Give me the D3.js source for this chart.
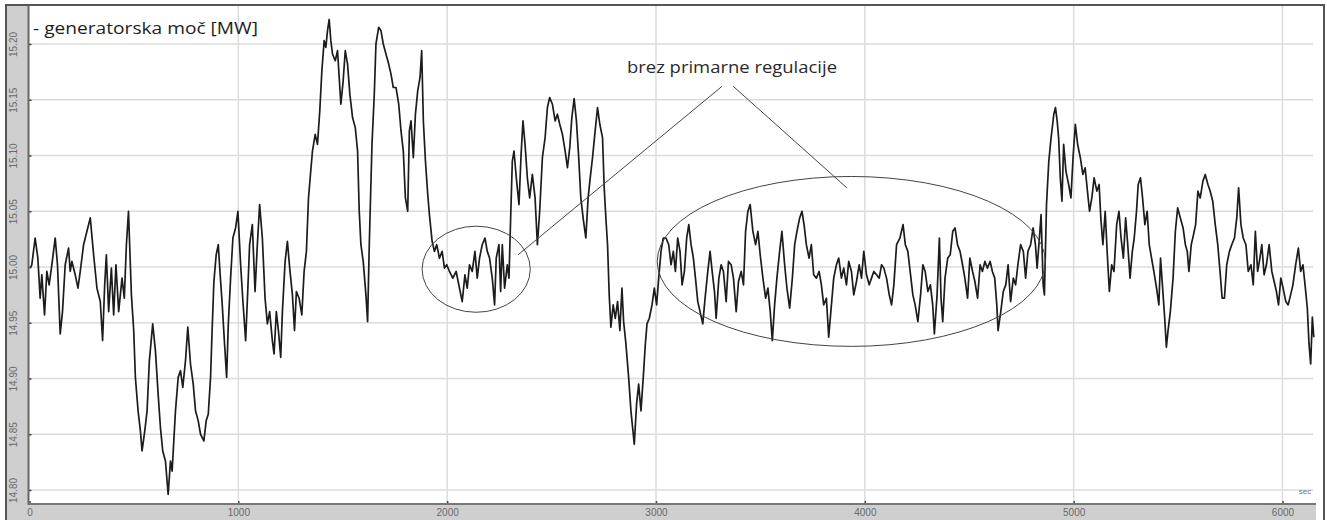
<!DOCTYPE html>
<html>
<head>
<meta charset="utf-8">
<script src="https://cdn.jsdelivr.net/npm/d3@7"></script>
<style>
  html, body { margin: 0; padding: 0; background: #fff; }
  svg { display: block; }
</style>
</head>
<body>
<svg id="chart" width="1327" height="520"></svg>
<script>
// Generator output power over time, seconds vs MW
const timeSec = [
  3, 11, 27, 40, 51, 59, 72, 83, 94, 107, 123, 134, 147, 158, 171, 187, 195, 203, 219, 232,
  243, 259, 275, 291, 307, 323, 339, 350, 360, 368, 379, 392, 403, 414, 427, 443, 454, 464, 474, 488,
  499, 507, 520, 531, 539, 552, 563, 574, 590, 603, 616, 627, 638, 651, 664, 675, 683, 699, 712, 723,
  734, 747, 758, 771, 784, 795, 808, 819, 835, 846, 856, 867, 875, 883, 894, 904, 912, 923, 934, 944,
  952, 963, 974, 987, 998, 1011, 1022, 1035, 1043, 1054, 1067, 1080, 1091, 1102, 1115, 1128, 1139, 1150, 1163, 1171,
  1182, 1192, 1203, 1211, 1224, 1235, 1246, 1259, 1269, 1278, 1291, 1304, 1315, 1326, 1336, 1344, 1355, 1368, 1379, 1390,
  1400, 1411, 1419, 1427, 1435, 1443, 1451, 1464, 1475, 1483, 1491, 1502, 1512, 1523, 1534, 1547, 1560, 1571, 1579, 1587,
  1598, 1611, 1619, 1627, 1640, 1651, 1659, 1672, 1683, 1694, 1707, 1720, 1731, 1742, 1755, 1768, 1779, 1790, 1800, 1811,
  1819, 1827, 1838, 1848, 1859, 1870, 1878, 1886, 1896, 1907, 1915, 1928, 1939, 1950, 1963, 1976, 1987, 1998, 2011, 2027,
  2043,
  2072, 2085, 2096, 2107, 2120, 2133, 2144, 2155, 2168, 2181, 2192, 2203, 2216, 2227, 2235, 2248, 2256, 2264, 2275, 2288,
  2296, 2304, 2312, 2320, 2331, 2344, 2354, 2363, 2373, 2384, 2395, 2408, 2421, 2432, 2443, 2456, 2469, 2480, 2491, 2504,
  2517, 2528, 2539, 2552, 2565, 2576, 2587, 2597, 2608, 2619, 2629, 2640, 2651, 2664, 2675, 2685, 2696, 2707, 2720, 2731,
  2744, 2752, 2760, 2768, 2776, 2784, 2795, 2805, 2816, 2827, 2837, 2845, 2856, 2869, 2880, 2888, 2896, 2907, 2917, 2928,
  2939, 2949, 2957, 2968, 2981, 2992, 3003, 3013, 3024, 3035, 3048, 3061, 3072, 3083, 3093, 3104, 3115, 3125, 3136, 3147,
  3157, 3168, 3179, 3189, 3200, 3211, 3224, 3235, 3248, 3259, 3269, 3280, 3288, 3301, 3312, 3323, 3336, 3347, 3360, 3371,
  3384, 3395, 3408, 3419, 3429, 3440, 3451, 3464, 3477, 3488, 3499, 3512, 3525, 3536, 3547, 3557, 3568, 3579, 3592, 3603,
  3616, 3627, 3640, 3653, 3664, 3675, 3688, 3699, 3709, 3720, 3733, 3744, 3755, 3768, 3781, 3792, 3803, 3816, 3827, 3840,
  3851, 3864, 3875, 3888, 3899, 3912, 3923, 3936, 3947, 3960, 3973, 3984, 3995, 4008, 4021, 4032, 4043, 4056, 4069, 4080,
  4091, 4104, 4117, 4128, 4139, 4152, 4168,
  4183, 4194, 4206, 4219, 4230, 4241, 4254, 4267, 4278, 4289, 4302, 4314, 4325, 4333, 4346, 4357, 4365, 4373, 4384, 4397,
  4409, 4421, 4432, 4444, 4456, 4468, 4479, 4492, 4503, 4516, 4527, 4540, 4552, 4563, 4575, 4587, 4600, 4611, 4622, 4632,
  4638, 4651, 4663, 4675, 4686, 4698, 4711, 4722, 4733, 4746, 4759, 4770, 4781, 4794, 4806, 4817, 4825, 4836, 4844, 4854,
  4860, 4870, 4881, 4892, 4905, 4913, 4921, 4928, 4936, 4944, 4952, 4963, 4976, 4987, 4997, 5008, 5019, 5032, 5044, 5055,
  5066, 5076, 5087, 5098, 5111, 5122, 5130, 5140, 5151, 5162, 5171, 5182, 5193, 5206, 5217, 5227, 5238, 5249, 5259, 5270,
  5281, 5290, 5301, 5309, 5320, 5330, 5341, 5352, 5362, 5373, 5384, 5397, 5408, 5416, 5425, 5436, 5444, 5452, 5463, 5476,
  5487, 5498, 5511, 5524, 5535, 5544, 5552, 5563, 5574, 5584, 5595, 5606, 5619, 5630, 5643, 5654, 5666, 5678, 5690, 5701,
  5711, 5722, 5733, 5746, 5757, 5770, 5781, 5790, 5801, 5812, 5825, 5836, 5849, 5860, 5870, 5881, 5892, 5901, 5912, 5923,
  5936, 5949, 5960, 5971, 5981, 5992, 6003, 6016, 6027, 6039, 6050, 6063, 6076, 6087, 6098, 6108, 6119, 6127, 6135, 6143,
  6150
];

const powerMW = [
  14.999, 15.002, 15.026, 15.008, 14.972, 14.993, 14.957, 14.996, 14.984, 15.002, 15.026, 15.002, 14.940, 14.960, 15.002, 15.017, 14.996, 15.005, 14.993, 14.981,
  14.996, 15.020, 15.032, 15.044, 15.011, 14.981, 14.969, 14.934, 14.984, 15.011, 14.960, 14.999, 14.957, 15.002, 14.960, 14.990, 14.972, 15.020, 15.050, 14.975,
  14.943, 14.901, 14.871, 14.853, 14.835, 14.853, 14.871, 14.916, 14.949, 14.925, 14.886, 14.856, 14.835, 14.826, 14.796, 14.826, 14.817, 14.871, 14.901, 14.907,
  14.892, 14.916, 14.946, 14.913, 14.895, 14.871, 14.862, 14.850, 14.844, 14.862, 14.868, 14.901, 14.946, 14.987, 15.011, 15.020, 14.996, 14.966, 14.931, 14.901,
  14.949, 14.990, 15.026, 15.035, 15.050, 15.002, 14.969, 14.934, 14.969, 15.020, 15.038, 14.978, 15.020, 15.056, 15.026, 14.972, 14.949, 14.960, 14.934, 14.922,
  14.960, 14.943, 14.919, 14.960, 15.005, 15.023, 14.999, 14.975, 14.943, 14.978, 14.972, 14.957, 14.996, 15.014, 15.062, 15.080, 15.104, 15.119, 15.110, 15.140,
  15.176, 15.203, 15.197, 15.212, 15.222, 15.203, 15.191, 15.185, 15.194, 15.170, 15.146, 15.167, 15.194, 15.182, 15.155, 15.134, 15.125, 15.104, 15.050, 15.020,
  15.005, 14.975, 14.951, 15.020, 15.110, 15.155, 15.200, 15.215, 15.212, 15.200, 15.191, 15.182, 15.173, 15.161, 15.161, 15.146, 15.122, 15.104, 15.062, 15.050,
  15.122, 15.131, 15.098, 15.137, 15.158, 15.170, 15.194, 15.131, 15.095, 15.065, 15.047, 15.023, 15.014, 15.020, 15.008, 15.014, 14.999, 15.002, 14.996, 14.990,
  14.996,
  14.969, 14.993, 14.981, 15.002, 14.996, 15.014, 14.990, 15.008, 15.020, 15.026, 15.014, 15.008, 14.990, 14.966, 15.008, 15.020, 14.978, 15.020, 14.981, 15.002,
  14.990, 15.044, 15.095, 15.104, 15.080, 15.056, 15.101, 15.131, 15.110, 15.080, 15.062, 15.083, 15.062, 15.020, 15.050, 15.098, 15.116, 15.143, 15.152, 15.146,
  15.131, 15.137, 15.128, 15.119, 15.104, 15.089, 15.107, 15.134, 15.151, 15.131, 15.101, 15.062, 15.044, 15.026, 15.062, 15.080, 15.098, 15.119, 15.143, 15.128,
  15.116, 15.071, 15.044, 15.020, 14.975, 14.946, 14.966, 14.954, 14.969, 14.943, 14.981, 14.951, 14.931, 14.901, 14.871, 14.856, 14.841, 14.877, 14.895, 14.871,
  14.901, 14.931, 14.949, 14.954, 14.966, 14.981, 14.966, 14.990, 15.014, 15.026, 15.026, 15.020, 15.002, 15.014, 14.996, 15.026, 15.014, 14.984, 14.996, 15.026,
  15.038, 15.020, 15.008, 14.990, 14.969, 14.960, 14.949, 14.972, 14.996, 15.014, 14.996, 14.978, 14.954, 14.990, 15.002, 14.996, 14.969, 15.005, 15.002, 14.990,
  14.960, 14.987, 14.996, 14.984, 15.032, 15.050, 15.056, 15.032, 15.020, 15.032, 15.011, 14.990, 14.972, 14.981, 14.960, 14.934, 14.966, 14.990, 15.014, 15.032,
  15.002, 14.981, 14.963, 14.990, 15.020, 15.032, 15.044, 15.050, 15.038, 15.020, 15.008, 15.020, 14.993, 14.990, 14.996, 14.984, 14.966, 14.972, 14.937, 14.966,
  14.990, 15.002, 15.008, 14.990, 14.999, 14.984, 15.005, 14.996, 14.975, 14.987, 15.002, 14.990, 15.014, 14.993, 14.984, 14.990, 14.996, 14.993, 14.990, 15.002,
  14.999, 14.990, 14.975, 14.966, 14.984, 15.020, 15.026,
  15.038, 15.020, 15.014, 14.993, 14.975, 14.966, 14.951, 14.975, 15.002, 14.996, 14.978, 14.984, 14.966, 14.940, 14.975, 15.026, 14.972, 14.951, 14.990, 15.008,
  15.011, 15.032, 15.035, 15.020, 15.014, 15.002, 14.990, 14.972, 15.008, 14.996, 14.987, 14.972, 15.002, 14.996, 15.005, 14.999, 15.005, 14.996, 14.990, 14.966,
  14.943, 14.960, 14.978, 14.984, 15.002, 14.969, 14.990, 14.984, 15.002, 15.020, 15.014, 14.990, 15.014, 15.020, 15.035, 15.020, 14.999, 15.026, 15.047, 14.984,
  14.975, 15.056, 15.095, 15.116, 15.137, 15.143, 15.131, 15.116, 15.080, 15.059, 15.110, 15.086, 15.074, 15.062, 15.098, 15.128, 15.110, 15.098, 15.083, 15.089,
  15.068, 15.050, 15.062, 15.080, 15.068, 15.074, 15.044, 15.020, 15.050, 15.008, 14.978, 15.002, 14.996, 15.038, 15.050, 15.026, 15.008, 15.044, 15.020, 14.990,
  15.014, 15.026, 15.050, 15.074, 15.080, 15.062, 15.038, 15.050, 15.020, 15.008, 14.996, 14.981, 14.966, 15.008, 14.984, 14.954, 14.928, 14.943, 14.960, 14.990,
  15.032, 15.053, 15.044, 15.035, 15.020, 15.014, 14.996, 15.020, 15.029, 15.038, 15.068, 15.062, 15.077, 15.083, 15.074, 15.068, 15.059, 15.038, 15.020, 14.996,
  14.972, 14.972, 15.002, 15.014, 15.020, 15.026, 15.044, 15.071, 15.038, 15.026, 15.020, 14.996, 15.002, 14.984, 15.032, 14.996, 15.008, 15.020, 14.993, 15.002,
  15.020, 14.996, 14.987, 14.978, 14.966, 14.990, 14.981, 14.969, 14.966, 14.975, 14.984, 15.002, 15.017, 14.996, 15.002, 14.984, 14.963, 14.931, 14.913, 14.955,
  14.937
];

const yTicks = [14.80, 14.85, 14.90, 14.95, 15.00, 15.05, 15.10, 15.15, 15.20];
const xTicks = [0, 1000, 2000, 3000, 4000, 5000, 6000];

const titleText = "- generatorska moč [MW]";
const noteText = "brez primarne regulacije";
const unitText = "sec";

// Annotation shapes, expressed in data units (seconds, MW)
const noteAnchor = { t: 3364, v: 15.174 };
const ellipses = [
  { t: 2139, v: 14.998, rt: 259, rv: 0.0386 },
  { t: 3935, v: 15.005, rt: 929, rv: 0.0762 }
];
const leaders = [
  { t1: 3316, v1: 15.162, t2: 2340, v2: 15.011 },
  { t1: 3370, v1: 15.162, t2: 3914, v2: 15.071 }
];

const series = timeSec.map((t, i) => ({ t, v: powerMW[i] }));

const svg = d3.select("#chart");
const W = 1327, H = 520;
const plot = { left: 28.5, right: 1316, top: 5, bottom: 504 };

const x = d3.scaleLinear().domain([0, 6160]).range([29.5, 1315.9]);
const y = d3.scaleLinear().domain([14.80, 15.20]).range([490, 44]);

// panel background strips
svg.append("rect").attr("x", 0).attr("y", 0).attr("width", W).attr("height", H).attr("fill", "#fff");
svg.append("rect").attr("x", 6).attr("y", 5).attr("width", 22).attr("height", H - 5).attr("fill", "#cfcfcf");
svg.append("rect").attr("x", 6).attr("y", plot.bottom).attr("width", plot.right - 6).attr("height", H - plot.bottom).attr("fill", "#cfcfcf");

// grid
const grid = svg.append("g");
grid.selectAll(".hg").data(yTicks).join("line")
  .attr("x1", plot.left).attr("x2", 1313)
  .attr("y1", d => y(d)).attr("y2", d => y(d))
  .attr("stroke", "#dcdcdc").attr("stroke-width", 1.5);
grid.selectAll(".vg").data(xTicks.slice(1)).join("line")
  .attr("x1", d => x(d)).attr("x2", d => x(d))
  .attr("y1", plot.top).attr("y2", plot.bottom)
  .attr("stroke", "#dcdcdc").attr("stroke-width", 1.5);

// data line
svg.append("defs").append("clipPath").attr("id", "clip")
  .append("rect").attr("x", plot.left).attr("y", plot.top)
  .attr("width", plot.right - plot.left).attr("height", plot.bottom - plot.top);

const line = d3.line().x(d => x(d.t)).y(d => y(d.v));
svg.append("path")
  .datum(series)
  .attr("clip-path", "url(#clip)")
  .attr("d", line)
  .attr("fill", "none")
  .attr("stroke", "#1c1c1c")
  .attr("stroke-width", 1.7)
  .attr("stroke-linejoin", "round");

// axes
const yAxis = d3.axisLeft(y).tickValues(yTicks).tickFormat(d3.format(".2f")).tickSize(3).tickPadding(8);
const gy = svg.append("g").attr("transform", `translate(${plot.left + 3},0)`).call(yAxis);
gy.select(".domain").remove();
gy.selectAll(".tick line").attr("stroke", "#444").attr("stroke-width", 1.5);
gy.selectAll(".tick text")
  .attr("x", 0).attr("dx", 0).attr("dy", 0)
  .attr("transform", "translate(-17,0) rotate(-90)")
  .attr("text-anchor", "middle")
  .attr("dominant-baseline", "middle")
  .attr("fill", "#6a6a6a")
  .style("font", "10px 'Liberation Sans', Arial, sans-serif");

const xAxis = d3.axisBottom(x).tickValues(xTicks).tickFormat(d3.format("d")).tickSize(3).tickPadding(3);
const gx = svg.append("g").attr("transform", `translate(0,${plot.bottom - 3})`).call(xAxis);
gx.select(".domain").remove();
gx.selectAll(".tick line").attr("stroke", "#444").attr("stroke-width", 1.5);
gx.selectAll(".tick text")
  .attr("y", 0).attr("dy", 0)
  .attr("transform", "translate(0,15)")
  .attr("fill", "#6a6a6a")
  .style("font", "10px 'Liberation Sans', Arial, sans-serif");

// frame lines
svg.append("line").attr("x1", plot.left).attr("x2", plot.left).attr("y1", plot.top).attr("y2", plot.bottom + 1)
  .attr("stroke", "#666").attr("stroke-width", 2);
svg.append("line").attr("x1", plot.left).attr("x2", plot.right).attr("y1", plot.bottom).attr("y2", plot.bottom)
  .attr("stroke", "#777").attr("stroke-width", 2);
svg.append("rect").attr("x", 6).attr("y", 5).attr("width", 1318).attr("height", H)
  .attr("fill", "none").attr("stroke", "#555").attr("stroke-width", 2);

// unit label
svg.append("text").attr("x", 1305).attr("y", 494).attr("text-anchor", "middle")
  .attr("fill", "#777").style("font", "8px 'Liberation Sans', Arial, sans-serif").text(unitText);

// title
svg.append("text").attr("x", 33).attr("y", 34)
  .attr("fill", "#1e1e1e")
  .attr("textLength", 225).attr("lengthAdjust", "spacingAndGlyphs")
  .style("font", "16px 'Open Sans', sans-serif")
  .text(titleText);

// annotation
const ann = svg.append("g").attr("fill", "none").attr("stroke", "#444").attr("stroke-width", 1);
ellipses.forEach(e => {
  ann.append("ellipse")
    .attr("cx", x(e.t)).attr("cy", y(e.v))
    .attr("rx", x(e.t + e.rt) - x(e.t))
    .attr("ry", y(e.v - e.rv) - y(e.v));
});
leaders.forEach(l => {
  ann.append("line")
    .attr("x1", x(l.t1)).attr("y1", y(l.v1))
    .attr("x2", x(l.t2)).attr("y2", y(l.v2));
});
svg.append("text")
  .attr("x", x(noteAnchor.t)).attr("y", y(noteAnchor.v))
  .attr("text-anchor", "middle")
  .attr("fill", "#2a2a2a")
  .attr("textLength", 210).attr("lengthAdjust", "spacingAndGlyphs")
  .style("font", "16px 'Open Sans', sans-serif")
  .text(noteText);
</script>
</body>
</html>
